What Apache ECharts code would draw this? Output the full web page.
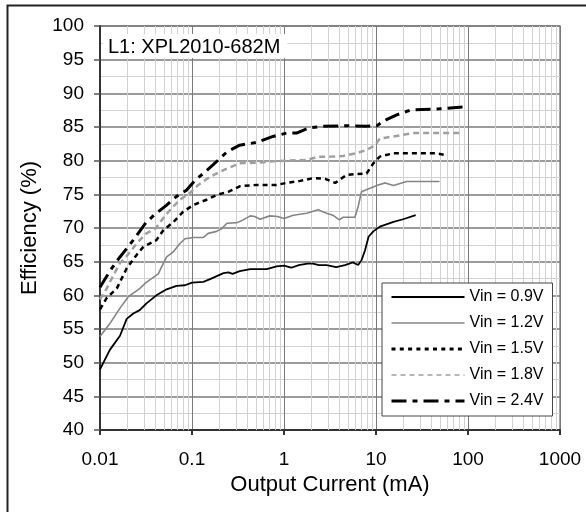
<!DOCTYPE html>
<html>
<head>
<meta charset="utf-8">
<script src="https://cdn.jsdelivr.net/npm/echarts@6/dist/echarts.min.js"></script>
<style>
html,body{margin:0;padding:0;background:#fff;}
#chart{width:586px;height:512px;}
</style>
</head>
<body>
<div id="chart"></div>
<script>
// Output current (mA) and efficiency (%) per input voltage
const i09 = [0.01,0.0128,0.0165,0.0195,0.023,0.027,0.032,0.041,0.053,0.068,0.084,0.1,0.133,0.157,0.22,0.25,0.276,0.33,0.43,0.65,0.83,1.0,1.2,1.45,1.8,2.06,2.4,2.9,3.7,4.6,5.6,6.4,6.96,7.6,8.3,9.35,11,15.5,19.7,27];
const e09 = [49.0,51.9,54.0,56.5,57.3,57.8,58.8,60.0,60.9,61.4,61.5,61.9,62.0,62.4,63.3,63.4,63.2,63.6,63.9,63.9,64.3,64.4,64.1,64.5,64.7,64.7,64.5,64.5,64.2,64.5,64.9,64.5,65.2,66.7,68.7,69.5,70.2,70.9,71.3,71.9];

const i12 = [0.01,0.0128,0.0165,0.0203,0.027,0.031,0.043,0.047,0.053,0.063,0.074,0.084,0.104,0.133,0.15,0.185,0.21,0.24,0.31,0.36,0.43,0.48,0.55,0.7,0.85,1.0,1.26,1.77,2.35,2.9,3.4,4.0,4.4,5.9,6.4,6.96,8.6,10.6,12.6,15.5,21.5,49];
const e12 = [53.9,55.8,58.1,59.8,61.0,61.8,63.2,64.3,65.7,66.5,67.7,68.4,68.6,68.6,69.2,69.5,69.9,70.7,70.8,71.2,71.8,71.7,71.3,71.8,71.7,71.4,71.9,72.2,72.7,72.2,71.9,71.2,71.6,71.6,73.2,75.4,75.9,76.4,76.7,76.3,76.9,76.9];

const i15 = [0.01,0.0118,0.0152,0.0195,0.025,0.0296,0.041,0.049,0.063,0.08,0.103,0.144,0.185,0.25,0.33,0.5,0.83,1.07,1.5,2.06,2.8,3.6,4.8,7.9,9.35,11,15.5,25,45,58];
const e15 = [57.9,59.6,61.0,64.0,66.0,67.2,68.2,69.7,70.9,72.4,73.4,74.2,74.9,75.4,76.2,76.4,76.4,76.7,77.0,77.4,77.3,76.7,77.9,78.1,79.6,80.6,81.1,81.1,81.1,80.8];

const i18 = [0.01,0.0118,0.014,0.0165,0.02,0.025,0.032,0.04,0.047,0.058,0.074,0.095,0.117,0.157,0.22,0.33,0.5,0.76,1.07,1.77,2.35,3.2,4.4,6.1,7.9,9.8,11,15.5,25,81];
const e18 = [59.4,61.0,63.0,64.8,66.0,67.7,69.2,69.9,71.2,72.7,74.2,75.2,76.4,77.6,78.6,79.6,79.7,79.9,80.0,80.1,80.6,80.6,80.7,81.1,81.6,82.3,83.3,83.6,84.1,84.1];

const i24 = [0.01,0.0118,0.0134,0.0165,0.023,0.032,0.041,0.053,0.068,0.087,0.108,0.133,0.17,0.24,0.33,0.5,0.76,1.07,1.37,1.9,2.65,4.8,7.9,10.2,13,16.8,23.5,32,49,96];
const e24 = [61.2,62.8,64.0,65.7,68.2,70.9,72.2,73.4,74.7,75.6,77.1,78.1,79.4,81.3,82.3,82.7,83.6,84.1,84.1,84.9,85.1,85.2,85.1,85.2,86.1,86.8,87.5,87.6,87.7,88.0];

const seriesNames = ['Vin = 0.9V','Vin = 1.2V','Vin = 1.5V','Vin = 1.8V','Vin = 2.4V'];
const xTickLabels = ['0.01','0.1','1','10','100','1000'];
const decades = [0.01,0.1,1,10,100];
const minorSteps = [2,3,4,5,6,7,8,9];

const FONT = '"Liberation Sans", Arial, sans-serif';
const zip = (a,b) => a.map((v,k)=>[v,b[k]]);
const minorX = [];
decades.forEach(d => minorSteps.forEach(m => minorX.push(+(d*m).toPrecision(3))));

const legendLines = [
  {color:'#000', width:2, type:'solid'},
  {color:'#858585', width:1.5, type:'solid'},
  {color:'#000', width:3, type:[4,4.3]},
  {color:'#a0a0a0', width:1.5, type:[5,4]},
  {color:'#000', width:3, type:[15,6,5,6]}
];

const chart = echarts.init(document.getElementById('chart'), null, {renderer:'canvas'});
chart.setOption({
  animation: false,
  backgroundColor: '#fff',
  textStyle: {fontFamily: FONT},
  title: {
    text: 'L1: XPL2010-682M',
    left: 103, top: 34, z: 50,
    padding: [3,7,1,5],
    backgroundColor: '#fff',
    textStyle: {fontSize: 20, fontWeight: 'normal', color: '#000', fontFamily: FONT, lineHeight: 20}
  },
  grid: {left: 100, right: 26, top: 26, bottom: 82, show: true, borderColor: '#888', borderWidth: 1.5, containLabel: false},
  legend: {
    data: seriesNames.map((n,k) => ({name: n, itemStyle: {opacity: 0}, lineStyle: legendLines[k]})),
    orient: 'vertical',
    left: 382, top: 283, z: 50,
    padding: [6,9,7,8],
    itemWidth: 73, itemHeight: 16, itemGap: 10,
    backgroundColor: '#fff',
    borderColor: '#444', borderWidth: 1,
    itemStyle: {opacity: 0},
    textStyle: {fontSize: 16, color: '#000', fontFamily: FONT},
    selectedMode: false
  },
  xAxis: {
    type: 'log', logBase: 10, min: 0.01, max: 1000,
    name: 'Output Current (mA)', nameLocation: 'middle', nameGap: 36,
    nameTextStyle: {fontSize: 22, color: '#000', fontFamily: FONT},
    axisLine: {show: true, lineStyle: {color: '#333', width: 2}},
    axisTick: {show: true, length: 5, lineStyle: {color: '#333', width: 2}},
    axisLabel: {fontSize: 19, color: '#000', margin: 20, fontFamily: FONT,
      formatter: v => { const k = Math.round(Math.log10(v)) + 2; return xTickLabels[k] !== undefined ? xTickLabels[k] : ''; }},
    splitLine: {show: true, lineStyle: {color: '#7a7a7a', width: 1}}
  },
  yAxis: {
    type: 'value', min: 40, max: 100, interval: 5,
    name: 'Efficiency (%)', nameLocation: 'middle', nameGap: 56,
    nameTextStyle: {fontSize: 22, color: '#000', fontFamily: FONT},
    axisLine: {show: true, lineStyle: {color: '#333', width: 2}},
    axisTick: {show: true, length: 6, lineStyle: {color: '#555', width: 1.5}},
    axisLabel: {fontSize: 19, color: '#000', margin: 16, fontFamily: FONT},
    splitLine: {show: true, lineStyle: {color: '#7a7a7a', width: 1.5}},
    minorTick: {show: false, splitNumber: 2},
    minorSplitLine: {show: true, lineStyle: {color: '#d2d2d2', width: 1}}
  },
  graphic: [
    {type: 'polyline', silent: true, z: 100, shape: {points: [[7.5,520],[7.5,5.5],[600,5.5]]}, style: {stroke: '#222', lineWidth: 2, fill: null}}
  ],
  series: [
    {name: 'minor', type: 'line', data: [], silent: true, z: 1,
      markLine: {silent: true, symbol: ['none','none'], label: {show: false}, animation: false,
        lineStyle: {color: '#d2d2d2', width: 1, type: 'solid'},
        data: minorX.map(v => ({xAxis: v}))}},
    {name: seriesNames[0], type: 'line', data: zip(i09,e09), symbol: 'none', z: 5,
      itemStyle: {color: '#000'}, lineStyle: {color: '#000', width: 1.8}},
    {name: seriesNames[1], type: 'line', data: zip(i12,e12), symbol: 'none', z: 5,
      itemStyle: {color: '#858585'}, lineStyle: {color: '#858585', width: 1.6}},
    {name: seriesNames[2], type: 'line', data: zip(i15,e15), symbol: 'none', z: 5,
      itemStyle: {color: '#000'}, lineStyle: {color: '#000', width: 2.5, type: [5,4]}},
    {name: seriesNames[3], type: 'line', data: zip(i18,e18), symbol: 'none', z: 5,
      itemStyle: {color: '#a0a0a0'}, lineStyle: {color: '#a0a0a0', width: 2.5, type: [6,4]}},
    {name: seriesNames[4], type: 'line', data: zip(i24,e24), symbol: 'none', z: 5,
      itemStyle: {color: '#000'}, lineStyle: {color: '#000', width: 3, type: [15,6,5,6]}}
  ]
});
</script>
</body>
</html>
